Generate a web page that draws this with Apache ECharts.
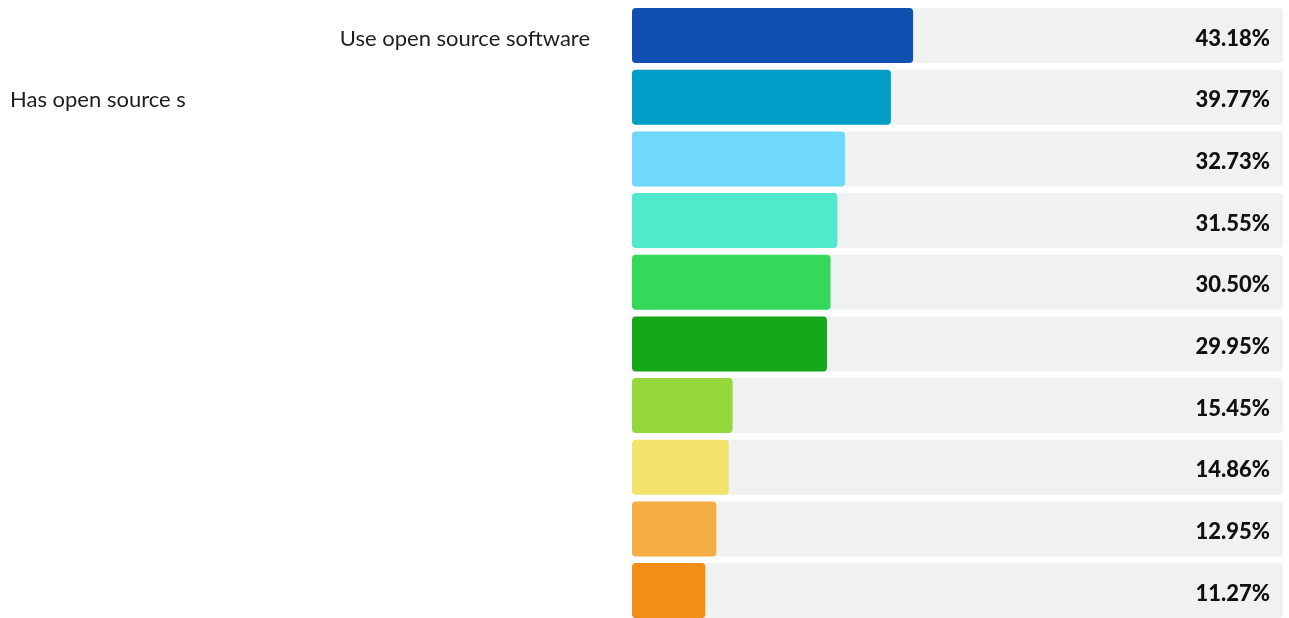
<!DOCTYPE html>
<html lang="en">
<head>
    <meta charset="UTF-8">
    <script src="https://cdn.jsdelivr.net/npm/echarts@6/dist/echarts.min.js"></script>
    <title>open source bars</title>
    <style>
        html, body { margin: 0; padding: 0; background: #fff; }
        #chart { width: 1289px; height: 618px; }
    </style>
</head>
<body>
    <div id="chart"></div>
    <script>
        // labels as shown (only the first two are drawn, the second one is cut off)
        const categories = ['Use open source software', 'Has open source s', '', '', '', '', '', '', '', ''];
        const values = [43.18, 39.77, 32.73, 31.55, 30.50, 29.95, 15.45, 14.86, 12.95, 11.27];
        const colors = ['#1050b1', '#009dc6', '#6ed9fb', '#50e9cc', '#35d95a', '#14a818', '#95d83b', '#f2e36a', '#f6ad43', '#f08e15'];
        const fullScale = values.map(() => 100);

        const chart = echarts.init(document.getElementById('chart'), null, { renderer: 'canvas' });
        chart.setOption({
            animation: false,
            grid: { left: 632, right: 6, top: 4.7, height: 616.7, outerBoundsMode: 'none' },
            xAxis: { type: 'value', min: 0, max: 100, show: false },
            yAxis: {
                type: 'category',
                inverse: true,
                data: categories,
                axisLine: { show: false },
                axisTick: { show: false },
                axisLabel: {
                    interval: 0,
                    margin: 42,
                    fontFamily: 'Lato',
                    fontSize: 22,
                    color: '#1e1e1e',
                    padding: [6, 0, 0, 0],
                    // second label sits at the far left
                    formatter: (v, i) => i === 1 ? '{l|' + v + '}' : v,
                    rich: { l: { width: 580, align: 'left', fontFamily: 'Lato', fontSize: 22, color: '#1e1e1e' } }
                }
            },
            series: [{
                type: 'bar',
                data: fullScale,
                barWidth: 55,
                silent: true,
                itemStyle: { color: '#f0f2f1', borderRadius: 4 },
                label: {
                    show: true,
                    position: 'insideRight',
                    distance: 13,
                    offset: [0, 3],
                    formatter: p => values[p.dataIndex].toFixed(2) + '%',
                    fontFamily: 'Lato',
                    fontWeight: 900,
                    fontSize: 22,
                    color: '#111'
                }
            }, {
                type: 'bar',
                barGap: '-100%',
                barWidth: 55,
                data: values.map((v, i) => ({ value: v, itemStyle: { color: colors[i] } })),
                itemStyle: { borderRadius: 4 }
            }]
        });
    </script>
</body>
</html>
